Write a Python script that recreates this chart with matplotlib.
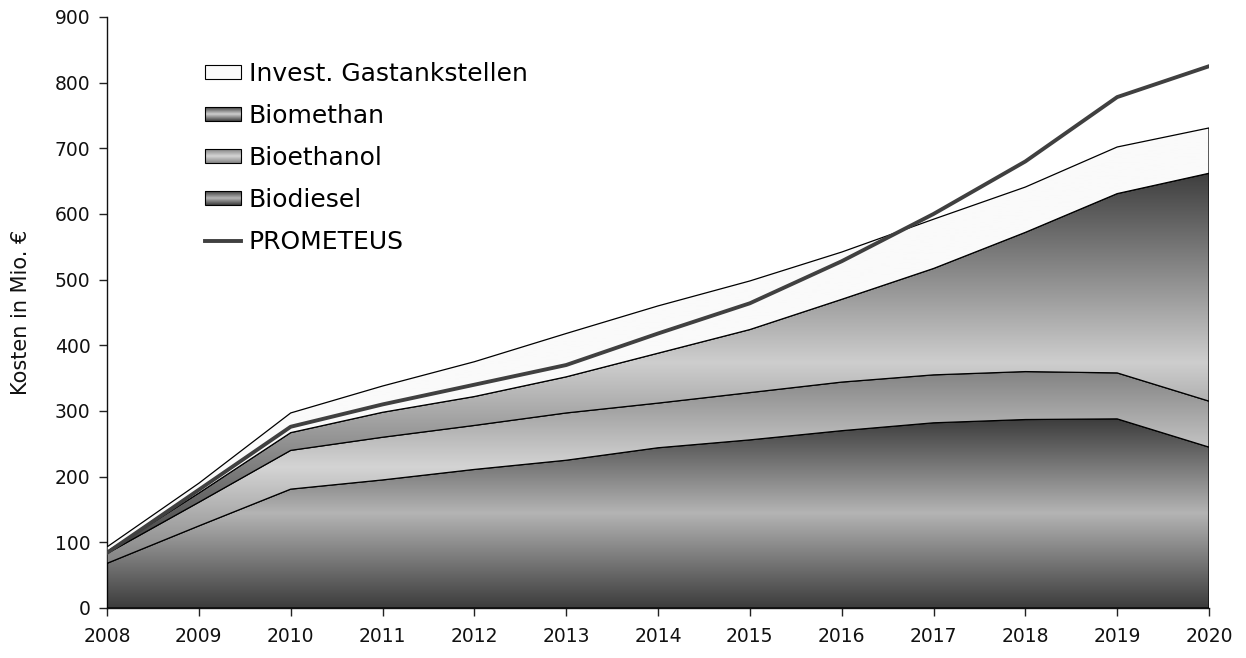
import matplotlib
matplotlib.use("Agg")
import matplotlib.pyplot as plt
import numpy as np
from matplotlib.colors import LinearSegmentedColormap
from matplotlib.legend_handler import HandlerBase
from matplotlib.patches import Rectangle, Patch
from matplotlib.lines import Line2D

# data (Mio. EUR)
years = [2008, 2009, 2010, 2011, 2012, 2013, 2014, 2015, 2016, 2017, 2018, 2019, 2020]
biodiesel = [68, 125, 181, 195, 211, 225, 244, 256, 270, 282, 287, 288, 245]
bioethanol = [15, 36, 59, 65, 67, 72, 68, 72, 74, 73, 73, 70, 70]
biomethan = [3, 14, 27, 38, 44, 55, 76, 96, 126, 162, 212, 273, 347]
invest = [7, 15, 30, 40, 53, 66, 72, 74, 72, 75, 69, 71, 69]
prometeus = [84, 180, 276, 310, 340, 370, 418, 464, 528, 600, 680, 778, 825]

labels = ["Biodiesel", "Bioethanol", "Biomethan", "Invest. Gastankstellen"]
# (edge colour, middle colour) of each vertical gradient
shades = [("#3c3c3c", "#b4b4b4"), ("#838383", "#d4d4d4"),
          ("#3e3e3e", "#cecece"), ("#fafafa", "#fafafa")]

plt.rcParams['font.family'] = ['DejaVu Sans']


def grad_cmap(edge, mid):
    return LinearSegmentedColormap.from_list("g", [edge, mid, edge])


class GradHandler(HandlerBase):
    def __init__(self, edge, mid):
        super().__init__()
        self.cmap = grad_cmap(edge, mid)

    def create_artists(self, legend, orig_handle, xdescent, ydescent,
                       width, height, fontsize, trans):
        n = 14
        arts = []
        for i in range(n):
            c = self.cmap((i + 0.5) / n)
            arts.append(Rectangle((-xdescent, -ydescent + i * height / n), width,
                                  height / n, fc=c, ec='none', transform=trans))
        arts.append(Rectangle((-xdescent, -ydescent), width, height, fc='none',
                              ec='black', lw=0.8, transform=trans))
        return arts


fig = plt.figure(figsize=(12.46, 6.58), dpi=100)
ax = fig.add_axes([0.0859, 0.076, 0.8844, 0.8982])

x = np.array(years)
series = [biodiesel, bioethanol, biomethan, invest]
lower = np.zeros(len(years))
for i, s in enumerate(series):
    upper = lower + np.array(s)
    poly = ax.fill_between(x, lower, upper, facecolor='none', edgecolor='black',
                           linewidth=0.9, zorder=3 + i)
    g = np.linspace(0, 1, 256).reshape(-1, 1)
    im = ax.imshow(g, cmap=grad_cmap(*shades[i]), origin='lower', aspect='auto',
                   extent=[x[0], x[-1], lower.min(), upper.max()],
                   interpolation='bilinear', zorder=2 + i)
    im.set_clip_path(poly.get_paths()[0], ax.transData)
    lower = upper

ax.plot(x, prometeus, color='#404040', linewidth=2.8, zorder=10,
        solid_joinstyle='round')

ax.set_xlim(2008, 2020)
ax.set_ylim(0, 900)
ax.set_xticks(years)
ax.set_yticks(range(0, 901, 100))
ax.tick_params(axis='both', labelsize=13.5, length=6, width=1, color='#222222',
               labelcolor='#111111')
ax.tick_params(axis='x', pad=8)
ax.tick_params(axis='y', pad=6)
for side in ['top', 'right']:
    ax.spines[side].set_visible(False)
for side in ['left', 'bottom']:
    ax.spines[side].set_color('#111111')
    ax.spines[side].set_linewidth(1)
ax.set_ylabel("Kosten in Mio. €", fontsize=15, color='#111111', labelpad=17)

handles = [Patch(label="Invest. Gastankstellen"), Patch(label="Biomethan"),
           Patch(label="Bioethanol"), Patch(label="Biodiesel"),
           Line2D([], [], color='#404040', lw=2.8, label="PROMETEUS")]
hmap = {handles[0]: GradHandler(*shades[3]), handles[1]: GradHandler(*shades[2]),
        handles[2]: GradHandler(*shades[1]), handles[3]: GradHandler(*shades[0])}
leg = ax.legend(handles=handles, handler_map=hmap, loc='upper left',
                bbox_to_anchor=(0.089, 0.924), frameon=False, fontsize=18,
                handlelength=1.45, handleheight=0.5, handletextpad=0.3,
                labelspacing=0.72, borderaxespad=0, borderpad=0)
leg.set_zorder(20)

fig.savefig("out.png", dpi=100)
